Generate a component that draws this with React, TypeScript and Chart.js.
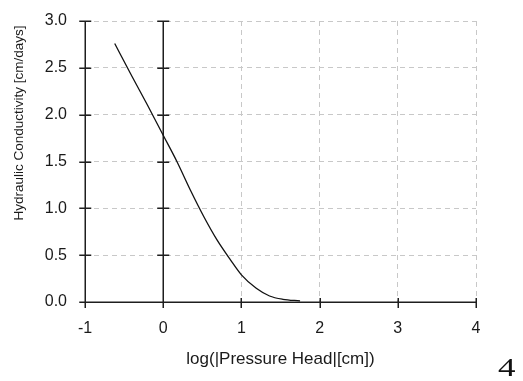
import React, { useEffect, useRef } from 'react';
import { Chart, registerables } from 'chart.js';

Chart.register(...registerables);

// log10(|pressure head| [cm]) values along the curve
const logPressureHead = [-0.62, -0.4, -0.2, 0, 0.175, 0.35, 0.52, 0.69, 0.86, 1.0, 1.19, 1.36, 1.53, 1.75];
// hydraulic conductivity [cm/days]
const conductivity = [2.76, 2.41, 2.1, 1.78, 1.5, 1.19, 0.91, 0.66, 0.45, 0.29, 0.146, 0.064, 0.029, 0.012];

const xTickValues = [-1, 0, 1, 2, 3, 4];
const yTickValues = [0, 0.5, 1.0, 1.5, 2.0, 2.5, 3.0];
const solidVerticalAt = [-1, 0];

const xTitle = 'log(|Pressure Head|[cm])';
const yTitle = 'Hydraulic Conductivity [cm/days]';
const pageNumber = '4';

const FONT = '"Liberation Sans", Arial, sans-serif';

const axesPlugin = {
  id: 'blackAxes',
  beforeDatasetsDraw(chart: any) {
    const { ctx, scales } = chart;
    const x = scales.x;
    const y = scales.y;
    const y0 = y.getPixelForValue(0);
    const yTop = y.getPixelForValue(yTickValues[yTickValues.length - 1]);
    ctx.save();
    ctx.strokeStyle = '#1e1e1e';
    ctx.lineWidth = 1.5;
    ctx.beginPath();
    for (const xv of solidVerticalAt) {
      const px = Math.round(x.getPixelForValue(xv)) + 0.25;
      ctx.moveTo(px, yTop);
      ctx.lineTo(px, y0 + 6);
      for (const yv of yTickValues) {
        const py = Math.round(y.getPixelForValue(yv)) + 0.25;
        ctx.moveTo(px - 6, py);
        ctx.lineTo(px + 6, py);
      }
    }
    const py0 = Math.round(y0) + 0.25;
    ctx.moveTo(x.getPixelForValue(xTickValues[0]), py0);
    ctx.lineTo(x.getPixelForValue(xTickValues[xTickValues.length - 1]), py0);
    for (const xv of xTickValues) {
      if (solidVerticalAt.includes(xv)) continue;
      const px = Math.round(x.getPixelForValue(xv)) + 0.25;
      ctx.moveTo(px, y0 - 4);
      ctx.lineTo(px, y0 + 6);
    }
    ctx.stroke();
    ctx.restore();
  },
  afterDraw(chart: any) {
    const { ctx, chartArea } = chart;
    ctx.save();
    ctx.translate(chartArea.left - 66, chartArea.top + 102);
    ctx.rotate(-Math.PI / 2);
    ctx.font = `13.5px ${FONT}`;
    ctx.fillStyle = '#1a1a1a';
    ctx.textAlign = 'center';
    ctx.textBaseline = 'middle';
    ctx.fillText(yTitle, 0, 0);
    ctx.restore();
  },
};

export default function App() {
  const canvasRef = useRef<HTMLCanvasElement | null>(null);

  useEffect(() => {
    if (!canvasRef.current) return;
    const chart = new Chart(canvasRef.current, {
      type: 'line',
      data: {
        datasets: [
          {
            data: logPressureHead.map((v, i) => ({ x: v, y: conductivity[i] })),
            borderColor: '#111',
            borderWidth: 1.3,
            pointRadius: 0,
            cubicInterpolationMode: 'monotone',
            fill: false,
          },
        ],
      },
      options: {
        animation: false,
        responsive: true,
        maintainAspectRatio: false,
        layout: { padding: { top: 21, right: 47, left: 0, bottom: 0 } },
        plugins: { legend: { display: false }, tooltip: { enabled: false } },
        scales: {
          x: {
            type: 'linear',
            min: xTickValues[0],
            max: xTickValues[xTickValues.length - 1],
            afterFit: (s: any) => {
              s.height = 79;
              s.paddingLeft = 0;
              s.paddingRight = 0;
            },
            afterBuildTicks: (s: any) => {
              s.ticks = xTickValues.map((v) => ({ value: v }));
            },
            ticks: {
              padding: 17,
              color: '#1a1a1a',
              font: { family: FONT, size: 16 },
              callback: (v: any) => String(v),
            },
            grid: {
              drawTicks: false,
              color: (c: any) =>
                c.tick && solidVerticalAt.includes(c.tick.value) ? 'rgba(0,0,0,0)' : '#c8c8c8',
              lineWidth: 1,
            },
            border: { display: false, dash: [5, 4] },
            title: {
              display: true,
              text: xTitle,
              color: '#1a1a1a',
              font: { family: FONT, size: 17 },
              padding: { top: 0, bottom: 11 },
            },
          },
          y: {
            type: 'linear',
            min: yTickValues[0],
            max: yTickValues[yTickValues.length - 1],
            afterFit: (s: any) => {
              s.width = 85;
              s.paddingTop = 0;
              s.paddingBottom = 0;
            },
            afterBuildTicks: (s: any) => {
              s.ticks = yTickValues.map((v) => ({ value: v }));
            },
            ticks: {
              padding: 18,
              color: '#1a1a1a',
              font: { family: FONT, size: 16 },
              callback: (v: any) => Number(v).toFixed(1),
            },
            grid: {
              drawTicks: false,
              color: (c: any) => (c.tick && c.tick.value === 0 ? 'rgba(0,0,0,0)' : '#c8c8c8'),
              lineWidth: 1,
            },
            border: { display: false, dash: [5, 4] },
          },
        },
      },
      plugins: [axesPlugin],
    });
    return () => chart.destroy();
  }, []);

  return (
    <div style={{ position: 'fixed', left: 0, top: 0, width: 523, height: 381, background: '#fff' }}>
      <canvas ref={canvasRef} />
      <div
        style={{
          position: 'absolute',
          left: 498,
          top: 355,
          fontFamily: '"Liberation Serif", "Times New Roman", serif',
          fontSize: 25,
          lineHeight: 1,
          color: '#111',
          transform: 'scaleX(1.4)',
          transformOrigin: 'left top',
        }}
      >
        {pageNumber}
      </div>
    </div>
  );
}
